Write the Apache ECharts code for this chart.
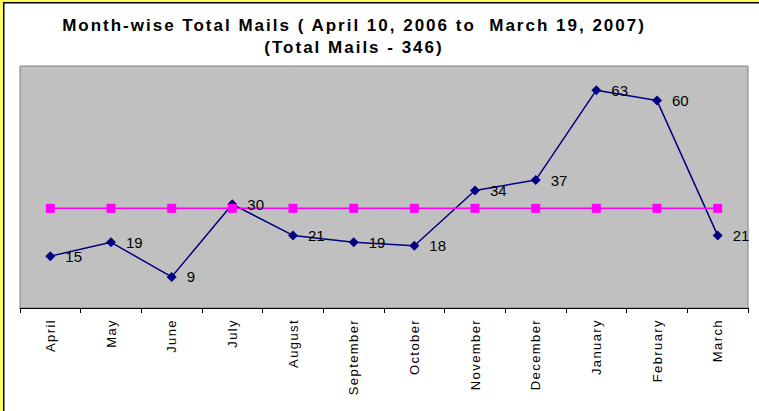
<!DOCTYPE html>
<html>
<head>
<meta charset="utf-8">
<script src="https://cdn.jsdelivr.net/npm/echarts@6/dist/echarts.min.js"></script>
<style>
  html, body { margin: 0; padding: 0; background: #fff; }
  #chart { width: 759px; height: 411px; }
</style>
</head>
<body>
<div id="chart"></div>
<script>
const months = ['April', 'May', 'June', 'July', 'August', 'September', 'October',
  'November', 'December', 'January', 'February', 'March'];
const totalMails = [15, 19, 9, 30, 21, 19, 18, 34, 37, 63, 60, 21];
// average line (346 / 12)
const averageMails = [28.83, 28.83, 28.83, 28.83, 28.83, 28.83, 28.83, 28.83, 28.83, 28.83, 28.83, 28.83];

const font = 'Arial, "Liberation Sans", sans-serif';
const chart = echarts.init(document.getElementById('chart'), null, { renderer: 'svg' });
const option = {
  animation: false,
  backgroundColor: '#fff',
  title: {
    text: 'Month-wise Total Mails ( April 10, 2006 to  March 19, 2007)\n(Total Mails - 346)',
    left: 349,
    top: 9,
    textAlign: 'center',
    textStyle: {
      fontFamily: font,
      fontSize: 17,
      fontWeight: 'bold',
      color: '#000',
      lineHeight: 22
    }
  },
  graphic: [
    { type: 'rect', shape: { x: 0, y: 0, width: 759, height: 2 }, style: { fill: '#ffff55' } },
    { type: 'rect', shape: { x: 0, y: 0, width: 3, height: 411 }, style: { fill: '#ffff55' } },
    { type: 'rect', shape: { x: 3, y: 2, width: 756, height: 1.5 }, style: { fill: '#000' } },
    { type: 'rect', shape: { x: 3, y: 2, width: 1.5, height: 409 }, style: { fill: '#000' } }
  ],
  grid: {
    left: 20,
    top: 66,
    right: 11,
    bottom: 103,
    show: true,
    backgroundColor: '#c0c0c0',
    borderColor: '#808080',
    borderWidth: 1
  },
  xAxis: {
    type: 'category',
    data: months,
    boundaryGap: true,
    axisLine: { lineStyle: { color: '#000', width: 1 } },
    axisTick: { show: true, length: 5, interval: 0, lineStyle: { color: '#000' } },
    axisLabel: {
      interval: 0,
      rotate: 90,
      margin: 11,
      fontFamily: font,
      fontSize: 13,
      color: '#000'
    }
  },
  yAxis: {
    type: 'value',
    min: 0,
    max: 70,
    axisLine: { show: false },
    axisTick: { show: false },
    axisLabel: { show: false },
    splitLine: { show: false }
  },
  series: [
    {
      name: 'Total Mails',
      type: 'line',
      data: totalMails,
      symbol: 'diamond',
      symbolSize: 10,
      itemStyle: { color: '#000080' },
      lineStyle: { color: '#000080', width: 1.5 },
      label: {
        show: true,
        position: 'right',
        distance: 10,
        fontFamily: font,
        fontSize: 15,
        color: '#000'
      }
    },
    {
      name: 'Average',
      type: 'line',
      data: averageMails,
      symbol: 'rect',
      symbolSize: 9,
      itemStyle: { color: '#ff00ff' },
      lineStyle: { color: '#ff00ff', width: 1.5 }
    }
  ]
};

// the original picture has wide letter spacing; widen the svg text a bit
const spaceText = () => {
  document.querySelectorAll('#chart text').forEach(t => {
    const s = t.textContent;
    if (s.indexOf('Month-wise') === 0 || s.indexOf('(Total Mails') === 0) {
      t.setAttribute('letter-spacing', '2px');
    } else if (months.indexOf(s) >= 0) {
      t.setAttribute('letter-spacing', '1.4px');
    }
  });
};
chart.on('finished', spaceText);
chart.setOption(option);
spaceText();
</script>
</body>
</html>
